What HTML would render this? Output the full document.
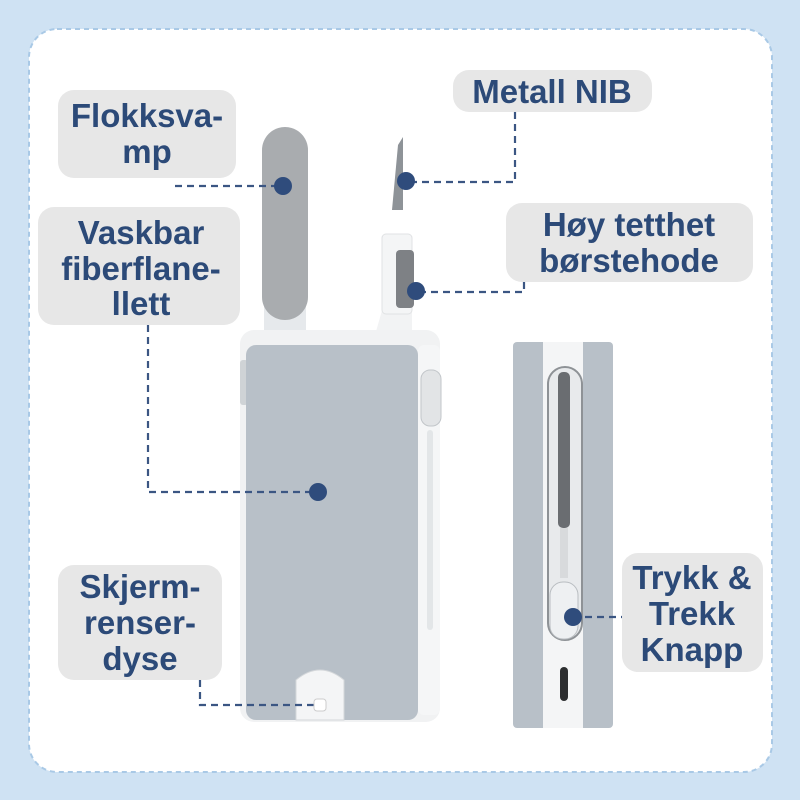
<!DOCTYPE html>
<html><head><style>
body{margin:0;width:800px;height:800px;background:#cfe2f3;overflow:hidden}
svg{display:block}
.t{font-family:"Liberation Sans",sans-serif;font-weight:bold;font-size:33px;fill:#2c4a78;text-anchor:middle}
</style></head><body>
<svg width="800" height="800" viewBox="0 0 800 800">
<rect x="0" y="0" width="800" height="800" fill="#cfe2f3"/>
<rect x="29" y="29" width="743" height="743" rx="28" fill="#fff" stroke="#a9c9e6" stroke-width="2" stroke-dasharray="5 4"/>
<!-- left device -->
<rect x="264" y="300" width="42" height="36" rx="6" fill="#e6e9ec"/>
<rect x="262" y="127" width="46" height="193" rx="23" fill="#a9acaf"/>
<path d="M385 300 L375 335 L412 340 L412 300 Z" fill="#f2f3f4"/>
<path d="M398 145 L403 137 L403 210 L392 210 Z" fill="#8e9398"/>
<rect x="382" y="234" width="30" height="80" rx="4" fill="#f4f5f6" stroke="#e0e2e4"/>
<rect x="396" y="250" width="18" height="58" rx="4" fill="#7e8185"/>
<rect x="240" y="330" width="200" height="392" rx="14" fill="#f1f2f3"/>
<rect x="240" y="360" width="8" height="45" rx="3" fill="#cfd3d6"/>
<rect x="246" y="345" width="172" height="375" rx="10" fill="#b8c0c8"/>
<rect x="418" y="345" width="22" height="370" rx="6" fill="#f5f6f7"/>
<rect x="421" y="370" width="20" height="56" rx="9" fill="#e2e4e6" stroke="#c2c6ca"/>
<rect x="427" y="430" width="6" height="200" rx="3" fill="#e3e6e8"/>
<path d="M296 720 L296 680 Q320 660 344 680 L344 720 Z" fill="#f4f5f6" stroke="#d4d7da"/>
<!-- right device -->
<rect x="513" y="342" width="100" height="386" rx="4" fill="#b8c0c8"/>
<rect x="543" y="342" width="40" height="386" fill="#f4f5f6"/>
<rect x="548" y="367" width="34" height="273" rx="17" fill="#e8eaec" stroke="#8e9296" stroke-width="2"/>
<rect x="558" y="372" width="12" height="156" rx="5" fill="#6a6d71"/>
<rect x="560" y="528" width="8" height="50" fill="#d8dadc"/>
<rect x="550" y="582" width="28" height="57" rx="13" fill="#eef0f2" stroke="#b9bdc1"/>
<rect x="560" y="667" width="8" height="34" rx="4" fill="#2c2e30"/>
<!-- connectors -->
<g stroke="#3b5683" stroke-width="2.2" stroke-dasharray="7 5" fill="none">
<path d="M175 186 H283"/>
<path d="M515 112 V182 H406"/>
<path d="M148 325 V492 H318"/>
<path d="M524 282 V292 H416"/>
<path d="M200 680 V705 H318"/>
<path d="M573 617 H622"/>
</g>
<g fill="#2f4c7c">
<circle cx="283" cy="186" r="9"/>
<circle cx="406" cy="181" r="9"/>
<circle cx="318" cy="492" r="9"/>
<circle cx="416" cy="291" r="9"/>
<circle cx="573" cy="617" r="9"/>
</g>
<rect x="314" y="699" width="12" height="12" rx="3" fill="#fff" stroke="#ccc"/>
<!-- labels -->
<g fill="#e7e7e7">
<rect x="58" y="90" width="178" height="88" rx="16"/>
<rect x="453" y="70" width="199" height="42" rx="16"/>
<rect x="38" y="207" width="202" height="118" rx="16"/>
<rect x="506" y="203" width="247" height="79" rx="16"/>
<rect x="58" y="565" width="164" height="115" rx="16"/>
<rect x="622" y="553" width="141" height="119" rx="16"/>
</g>
<text class="t" x="147" y="127">Flokksva-</text>
<text class="t" x="147" y="163">mp</text>
<text class="t" x="552" y="103">Metall NIB</text>
<text class="t" x="141" y="244">Vaskbar</text>
<text class="t" x="141" y="280">fiberflane-</text>
<text class="t" x="141" y="315">llett</text>
<text class="t" x="629" y="236">Høy tetthet</text>
<text class="t" x="629" y="272">børstehode</text>
<text class="t" x="140" y="598">Skjerm-</text>
<text class="t" x="140" y="634">renser-</text>
<text class="t" x="140" y="670">dyse</text>
<text class="t" x="692" y="589">Trykk &amp;</text>
<text class="t" x="692" y="625">Trekk</text>
<text class="t" x="692" y="661">Knapp</text>
</svg>
</body></html>
